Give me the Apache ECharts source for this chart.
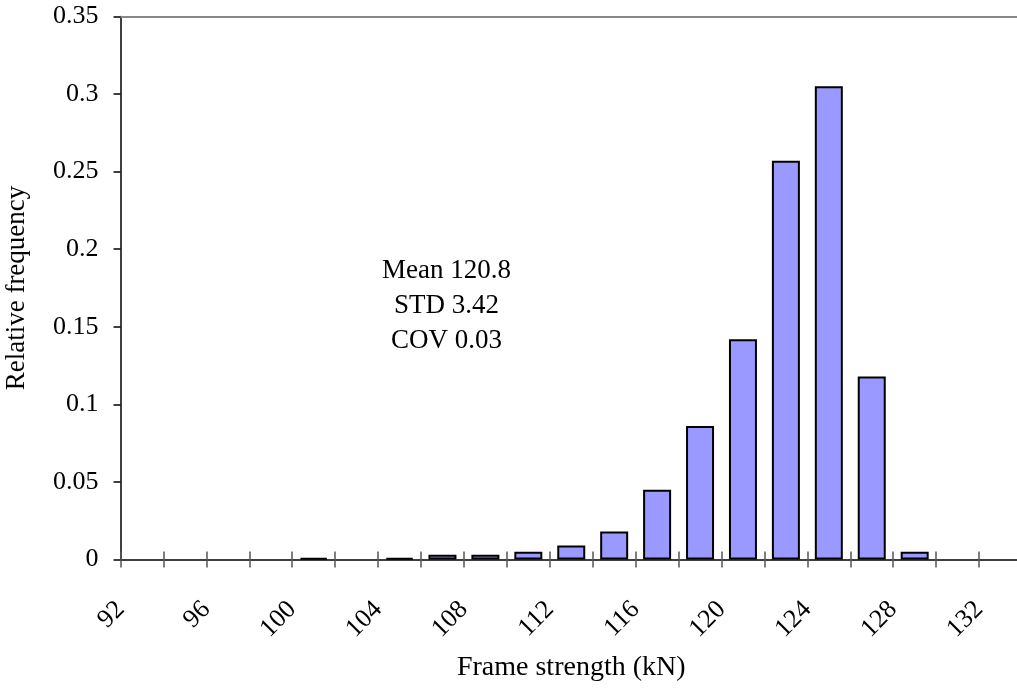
<!DOCTYPE html>
<html>
<head>
<meta charset="utf-8">
<script src="https://cdn.jsdelivr.net/npm/echarts@6/dist/echarts.min.js"></script>
<style>
html,body{margin:0;padding:0;background:#fff;}
#chart{width:1017px;height:689px;}
</style>
</head>
<body>
<div id="chart"></div>
<script>
// Bin centres (kN), bins of width 2
var binCenters = [93, 95, 97, 99, 101, 103, 105, 107, 109, 111, 113, 115, 117, 119, 121, 123, 125, 127, 129, 131, 133];
var relFreq    = [0, 0, 0, 0, 0.001, 0, 0.001, 0.003, 0.003, 0.005, 0.009, 0.018, 0.045, 0.086, 0.142, 0.257, 0.305, 0.118, 0.005, 0, 0];
var statsLines = ['Mean 120.8', 'STD 3.42', 'COV 0.03'];
var xTitle = 'Frame strength (kN)';
var yTitle = 'Relative frequency';

var FONT = '"Liberation Serif", "Times New Roman", serif';
var FS_TICK = 26, FS_TITLE = 28, FS_NOTE = 27;
var chart = echarts.init(document.getElementById('chart'));

var barData = [];
for (var i = 0; i < binCenters.length; i++) {
  if (relFreq[i] > 0) barData.push([binCenters[i], relFreq[i]]);
}

var xCommon = {type: 'value', min: 92, max: 134, interval: 2, splitLine: {show: false}};

chart.setOption({
  animation: false,
  grid: {left: 120.5, right: -5, top: 16.5, bottom: 129.5, containLabel: false, outerBoundsMode: 'none'},
  xAxis: [
    Object.assign({}, xCommon, {
      position: 'bottom',
      name: xTitle,
      nameLocation: 'middle',
      nameGap: 94,
      nameTextStyle: {fontFamily: FONT, fontSize: FS_TITLE, color: '#000'},
      axisLine: {show: true, lineStyle: {color: '#000', width: 1.5}},
      axisTick: {show: true, inside: false, length: 8, lineStyle: {color: '#555', width: 1.5}},
      axisLabel: {
        show: true, rotate: 45, margin: 46,
        fontFamily: FONT, fontSize: FS_TICK, color: '#000',
        showMinLabel: true, showMaxLabel: true, hideOverlap: false,
        formatter: function (v) { return (Math.round(v) % 4 === 0 && v <= 132) ? String(Math.round(v)) : ''; }
      }
    }),
    Object.assign({}, xCommon, {
      position: 'bottom',
      axisLine: {show: false},
      axisTick: {show: true, inside: true, length: 8, lineStyle: {color: '#555', width: 1.5}},
      axisLabel: {show: false}
    }),
    Object.assign({}, xCommon, {
      position: 'top',
      axisLine: {show: true, lineStyle: {color: '#888', width: 2}},
      axisTick: {show: false},
      axisLabel: {show: false}
    })
  ],
  yAxis: {
    type: 'value', min: 0, max: 0.35, interval: 0.05,
    name: yTitle,
    nameLocation: 'middle',
    nameGap: 90,
    nameTextStyle: {fontFamily: FONT, fontSize: 27, color: '#000'},
    axisLine: {show: true, lineStyle: {color: '#000', width: 1.5}},
    axisTick: {show: true, inside: false, length: 7, lineStyle: {color: '#000', width: 1.5}},
    axisLabel: {
      margin: 22, fontFamily: FONT, fontSize: FS_TICK, color: '#000',
      formatter: function (v) { return String(Math.round(v * 100) / 100); }
    },
    splitLine: {show: false}
  },
  graphic: [{
    type: 'text',
    left: 382,
    top: 253,
    style: {
      text: statsLines.join('\n'),
      fontFamily: FONT, fontSize: FS_NOTE, fill: '#000',
      lineHeight: 35,
      textAlign: 'center'
    }
  }],
  series: [{
    type: 'bar',
    xAxisIndex: 0,
    data: barData,
    barWidth: 28,
    itemStyle: {color: '#9999FF', borderColor: '#000', borderWidth: 2},
    silent: true
  }]
});
</script>
</body>
</html>
